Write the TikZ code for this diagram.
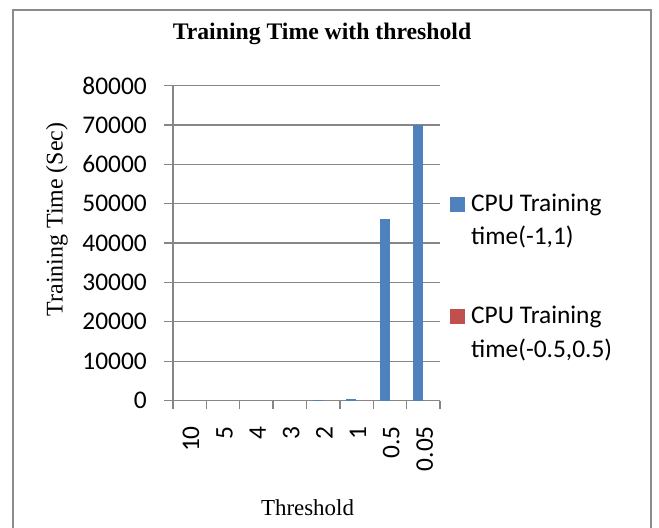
\documentclass[tikz,border=0pt]{standalone}
\usepackage{fontspec}
\setmainfont{Liberation Serif}
\newfontfamily\chartsans{Carlito}
\definecolor{barblue}{HTML}{4F81BD}
\definecolor{barred}{HTML}{C0504D}
\definecolor{axisgray}{HTML}{868686}
\definecolor{framegray}{HTML}{8C8C8C}
\begin{document}
\begin{tikzpicture}[x=1bp,y=-1bp,
  gridline/.style={axisgray,line width=1.3bp},
  ticklabel/.style={inner sep=0pt,font=\chartsans\fontsize{25.5}{30}\selectfont},
  legtext/.style={inner sep=0pt,anchor=base west,font=\chartsans\fontsize{25.5}{30}\selectfont},
  axistitle/.style={inner sep=0pt,font=\fontsize{23}{27}\selectfont}]
\useasboundingbox (0,0) rectangle (659,528);
\fill[white] (0,0) rectangle (659,528);
% chart frame (runs off the lower edge)
\draw[framegray,line width=1.6bp] (13,545) -- (13,10) -- (651,10) -- (651,545);
% title
\node[inner sep=0pt,anchor=base,font=\bfseries\fontsize{23.8}{28}\selectfont] (title) at (322,40) {Training Time with threshold};
% horizontal gridlines and value labels
\foreach \v/\lab in {0/0,1/10000,2/20000,3/30000,4/40000,5/50000,6/60000,7/70000,8/80000}{
  \draw[gridline] (164,{400.5-39.35*\v}) -- (440,{400.5-39.35*\v});
  \node[ticklabel,anchor=east] (yl\v) at (147,{400.5-39.35*\v}) {\lab};
}
% axes
\draw[gridline] (173,85.7) -- (173,400.5);
\foreach \i in {0,...,8}{
  \draw[gridline] ({173+33.375*\i},400.5) -- ++(0,8);
}
% category labels
\foreach \lab [count=\i] in {10,5,4,3,2,1,0.5,0.05}{
  \node[ticklabel,rotate=90,anchor=base east] (xl\i) at ({173+33.375*(\i-0.5)+9.5},426) {\lab};
}
% bars, series (-1,1); heights in units of 10000 s
\foreach \i/\v in {5/0.015,6/0.04,7/4.6,8/7}{
  \fill[barblue] ({173+33.375*(\i-1)+6.6},400.5) rectangle ++(10,{-39.35*\v});
}
% axis titles
\node[axistitle,rotate=90,font=\fontsize{24}{28}\selectfont] (ytitle) at (57,219.5) {Training Time (Sec)};
\node[axistitle,anchor=base] (xtitle) at (307.5,515) {Threshold};
% legend
\fill[barblue] (450,197) rectangle (465,212);
\node[legtext] (leg1a) at (471,212) {CPU Training};
\node[legtext] (leg1b) at (471,245) {time(-1,1)};
\fill[barred] (450,309) rectangle (465,324);
\node[legtext] (leg2a) at (471,323) {CPU Training};
\node[legtext] (leg2b) at (471,357) {time(-0.5,0.5)};
\end{tikzpicture}
\end{document}
